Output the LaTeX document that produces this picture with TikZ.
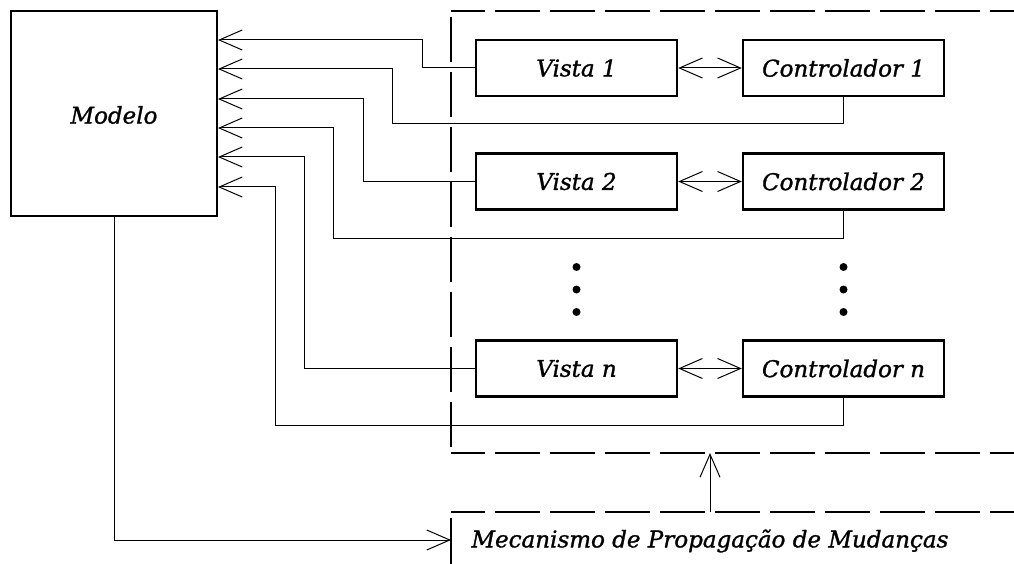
\documentclass[tikz,border=0pt]{standalone}
\usepackage{fontspec}
\setmainfont{DejaVu Serif}[ItalicFeatures={FakeBold=1.2}]
\usetikzlibrary{arrows.meta}
\begin{document}
\begin{tikzpicture}[x=1pt,y=-1pt,
  lbl/.style={font=\fontsize{23}{26}\selectfont\itshape},
  box/.style={lbl,draw,line width=2.4pt,minimum width=201pt,minimum height=56pt,inner sep=0pt},
  conn/.style={line width=1pt},
  frame/.style={line width=2.2pt,dash pattern=on 45pt off 10pt},
  >={Straight Barb[length=23pt,width=20pt,line width=1pt]}]
\useasboundingbox (0,0) rectangle (1014,564);
% frame
\draw[frame,dash phase=11pt] (451,11) -- (1014,11);
\draw[frame] (451,17) -- (451,447);
\draw[frame,dash phase=11pt] (451,453) -- (1014,453);
\draw[frame,dash phase=11pt] (451,512) -- (1014,512);
\draw[line width=2.2pt] (451,518) -- (451,564);
% nodes
\node[box,minimum width=206pt,minimum height=205pt] (modelo) at (114,113.5) {};
\node[lbl] at (114,115) {Modelo};
\node[box] (v1) at (576.5,68) {Vista 1};
\node[box] (c1) at (843.5,68) {Controlador 1};
\node[box] (v2) at (576.5,181.5) {Vista 2};
\node[box] (c2) at (843.5,181.5) {Controlador 2};
\node[box] (vn) at (576.5,368.5) {Vista \textit{n}};
\node[box] (cn) at (843.5,368.5) {Controlador \textit{n}};
\node[lbl] (mec) at (710,541) {Mecanismo de Propagação de Mudanças};
% arrow targets on Modelo
\coordinate (m1) at (218,40);
\coordinate (m2) at (218,69);
\coordinate (m3) at (218,99);
\coordinate (m4) at (218,128);
\coordinate (m5) at (218,157);
\coordinate (m6) at (218,187);
\coordinate (mecl) at (451,540);
\coordinate (frb) at (710,453);
\coordinate (mect) at (710,512);
% connectors
\draw[conn,->] (v1.west) -- (422,68) |- (m1);
\draw[conn,->] (c1.south) |- (392,124) |- (m2);
\draw[conn,->] (v2.west) -- (363,181.5) |- (m3);
\draw[conn,->] (c2.south) |- (333,238) |- (m4);
\draw[conn,->] (vn.west) -- (304,368.5) |- (m5);
\draw[conn,->] (cn.south) |- (275,425) |- (m6);
\draw[conn,<->] (v1) -- (c1);
\draw[conn,<->] (v2) -- (c2);
\draw[conn,<->] (vn) -- (cn);
\draw[conn,->] (modelo.south) |- (mecl);
\draw[conn,->] (mect) -- (frb);
% dots
\foreach \y in {267,289.5,312}{
  \fill (576.5,\y) circle (4pt);
  \fill (843.5,\y) circle (4pt);
}
\end{tikzpicture}
\end{document}
